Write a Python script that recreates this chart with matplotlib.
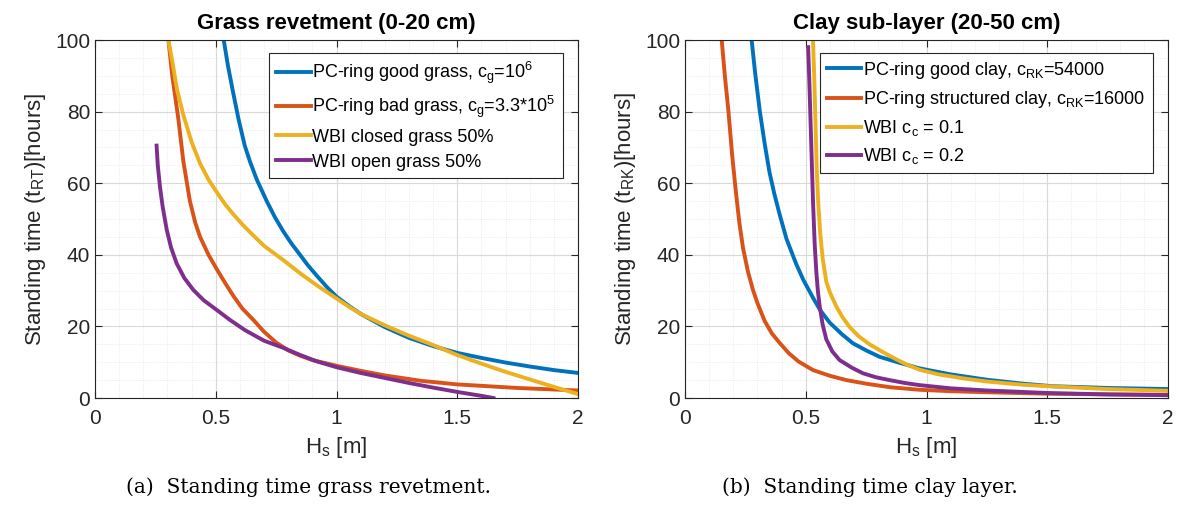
import matplotlib
matplotlib.use("Agg")
import matplotlib.pyplot as plt
from matplotlib.ticker import MultipleLocator

plt.rcParams["font.family"] = ["Liberation Sans", "DejaVu Sans"]
plt.rcParams["mathtext.fontset"] = "custom"
plt.rcParams["mathtext.rm"] = "Liberation Sans"
plt.rcParams["mathtext.it"] = "Liberation Sans:italic"

# --- grass revetment (0-20 cm) ---
good_grass_x = [0.533, 0.55, 0.57, 0.594, 0.62, 0.642, 0.67, 0.711, 0.745, 0.78, 0.815, 0.849, 0.88, 0.918,
                0.96, 1.0, 1.056, 1.1, 1.2, 1.3, 1.4, 1.5, 1.6, 1.7, 1.8, 1.9, 2.0]
good_grass_y = [100, 93, 86, 78, 70.5, 66, 61, 55, 50.5, 46.5, 43, 40, 37.2, 34.2, 31, 28.3, 25.5, 23.5,
                19.8, 16.8, 14.5, 12.6, 11.2, 9.9, 8.8, 7.8, 7]

bad_grass_x = [0.304, 0.32, 0.345, 0.366, 0.393, 0.415, 0.435, 0.47, 0.504, 0.54, 0.573, 0.61, 0.656, 0.70,
               0.75, 0.80, 0.85, 0.9, 1.0, 1.1, 1.2, 1.35, 1.5, 1.75, 2.0]
bad_grass_y = [100, 90, 78, 66, 55, 49, 45, 40, 36, 32, 28.5, 25, 21.8, 18.5, 15.5, 13.3, 11.8, 10.6,
               9.0, 7.6, 6.3, 4.8, 3.8, 2.8, 2.1]

closed_grass_x = [0.304, 0.32, 0.34, 0.366, 0.40, 0.435, 0.47, 0.504, 0.54, 0.573, 0.61, 0.642, 0.70, 0.78,
                  0.85, 0.918, 1.0, 1.056, 1.1, 1.2, 1.3, 1.4, 1.5, 1.6, 1.7, 1.8, 1.9, 2.0]
closed_grass_y = [100, 94, 86, 79, 71.5, 65.5, 61, 57.5, 54, 51.3, 48.5, 46.3, 42.5, 38.5, 34.8, 31.5,
                  27.8, 25.3, 23.5, 20.3, 17.4, 14.8, 12, 9.6, 7.3, 5.2, 3.1, 1.1]

open_grass_x = [0.255, 0.26, 0.269, 0.28, 0.297, 0.315, 0.338, 0.37, 0.407, 0.45, 0.504, 0.559, 0.62, 0.70,
                0.78, 0.85, 0.92, 1.0, 1.1, 1.2, 1.3, 1.4, 1.5, 1.6, 1.65]
open_grass_y = [70.5, 65, 59, 53.5, 47, 42, 37.6, 33.5, 30.2, 27.3, 24.6, 21.8, 19, 16, 14, 12, 10.2,
                8.6, 7.0, 5.6, 4.2, 2.9, 1.7, 0.6, 0]

# --- clay sub-layer (20-50 cm) ---
good_clay_x = [0.276, 0.29, 0.31, 0.33, 0.35, 0.37, 0.393, 0.42, 0.46, 0.49, 0.53, 0.56, 0.60, 0.65,
               0.695, 0.75, 0.806, 0.88, 0.97, 1.0, 1.1, 1.25, 1.4, 1.52, 1.75, 2.0]
good_clay_y = [100, 91, 80, 71, 63, 57, 51, 44.5, 37.5, 33, 28, 24.5, 21, 17.8, 15.3, 13.3, 11.5, 10,
               8.3, 7.9, 6.6, 5.1, 4.0, 3.3, 2.8, 2.5]

struct_clay_x = [0.152, 0.165, 0.18, 0.195, 0.21, 0.225, 0.24, 0.26, 0.28, 0.30, 0.33, 0.36, 0.393, 0.43,
                 0.47, 0.53, 0.6, 0.668, 0.75, 0.85, 0.971, 1.1, 1.25, 1.5, 1.75, 2.0]
struct_clay_y = [100, 90, 80, 68, 58, 49, 42, 35.5, 30.5, 26.5, 21.5, 18, 15.3, 12.5, 10.2, 7.8, 6.2, 5,
                 4, 3, 2.3, 1.9, 1.6, 1.2, 1.0, 0.9]

wbi_01_x = [0.53, 0.535, 0.54, 0.545, 0.551, 0.56, 0.57, 0.585, 0.60, 0.627, 0.65, 0.682, 0.72, 0.764,
            0.82, 0.875, 0.92, 0.971, 1.05, 1.15, 1.25, 1.4, 1.5, 1.75, 2.0]
wbi_01_y = [100, 90, 78, 65, 55.3, 46, 39, 32.5, 29.5, 25.5, 22.8, 19.8, 17.2, 15.0, 12.8, 10.8, 9.3,
            7.9, 6.6, 5.5, 4.6, 3.7, 3.3, 2.5, 2.0]

wbi_02_x = [0.51, 0.515, 0.52, 0.525, 0.53, 0.537, 0.544, 0.55, 0.558, 0.57, 0.585, 0.61, 0.64, 0.69,
            0.737, 0.79, 0.847, 0.91, 0.971, 1.1, 1.25, 1.5, 1.75, 2.0]
wbi_02_y = [98, 88, 77, 66, 55, 43, 35, 30, 25.5, 20.5, 16.4, 13, 10.6, 8.5, 6.9, 5.8, 5, 4.2, 3.6, 2.7,
            2.1, 1.4, 1.0, 0.8]

colors = ["#0072BD", "#D95319", "#EDB120", "#7E2F8E"]

grass_series = [
    (good_grass_x, good_grass_y, r"PC-ring good grass, c$_\mathrm{g}$=10$^\mathrm{6}$"),
    (bad_grass_x, bad_grass_y, r"PC-ring bad grass, c$_\mathrm{g}$=3.3*10$^\mathrm{5}$"),
    (closed_grass_x, closed_grass_y, "WBI closed grass 50%"),
    (open_grass_x, open_grass_y, "WBI open grass 50%"),
]
clay_series = [
    (good_clay_x, good_clay_y, r"PC-ring good clay, c$_\mathrm{RK}$=54000"),
    (struct_clay_x, struct_clay_y, r"PC-ring structured clay, c$_\mathrm{RK}$=16000"),
    (wbi_01_x, wbi_01_y, r"WBI c$_\mathrm{c}$ = 0.1"),
    (wbi_02_x, wbi_02_y, r"WBI c$_\mathrm{c}$ = 0.2"),
]

fig = plt.figure(figsize=(11.81, 5.09), dpi=100)
ax1 = fig.add_axes([95 / 1181, 1 - 398 / 509, 483 / 1181, 358 / 509])
ax2 = fig.add_axes([685 / 1181, 1 - 398 / 509, 483 / 1181, 358 / 509])

dark = "#262626"


def style_axes(ax, title, ylabel):
    ax.set_xlim(0, 2)
    ax.set_ylim(0, 100)
    ax.xaxis.set_major_locator(MultipleLocator(0.5))
    ax.xaxis.set_minor_locator(MultipleLocator(0.1))
    ax.yaxis.set_major_locator(MultipleLocator(20))
    ax.yaxis.set_minor_locator(MultipleLocator(5))
    ax.set_xticks([0, 0.5, 1, 1.5, 2])
    ax.set_xticklabels(["0", "0.5", "1", "1.5", "2"])
    ax.grid(which="major", color="#d9d9d9", linewidth=0.8)
    ax.grid(which="minor", color="#e6e6e6", linewidth=0.6, linestyle=":")
    ax.set_axisbelow(True)
    ax.tick_params(which="both", direction="in", top=True, right=True, colors=dark, labelsize=15)
    ax.tick_params(which="major", length=5)
    ax.tick_params(which="minor", length=0)
    ax.tick_params(axis="x", pad=8)
    for sp in ax.spines.values():
        sp.set_color(dark)
        sp.set_linewidth(0.8)
    ax.set_title(title, fontsize=16, fontweight="bold", pad=8)
    ax.set_xlabel(r"H$_\mathrm{s}$ [m]", fontsize=16, color=dark, labelpad=5)
    ax.set_ylabel(ylabel, fontsize=16, color=dark, labelpad=5)


for ax, series in [(ax1, grass_series), (ax2, clay_series)]:
    for (xs, ys, lab), c in zip(series, colors):
        ax.plot(xs, ys, color=c, linewidth=2.8, label=lab, solid_joinstyle="round")

style_axes(ax1, "Grass revetment (0-20 cm)", r"Standing time (t$_\mathrm{RT}$)[hours]")
style_axes(ax2, "Clay sub-layer (20-50 cm)", r"Standing time (t$_\mathrm{RK}$)[hours]")

for ax in (ax1, ax2):
    leg = ax.legend(loc="upper right", bbox_to_anchor=(0.968, 0.965), fontsize=13,
                    handlelength=1.9, handletextpad=0.1, labelspacing=0.45,
                    borderpad=0.4, fancybox=False, framealpha=1, borderaxespad=0)
    leg.get_frame().set_edgecolor(dark)
    leg.get_frame().set_linewidth(0.8)

fig.text(308 / 1181, 1 - 487 / 509, "(a)  Standing time grass revetment.", ha="center", va="center",
         fontsize=14.5, family="DejaVu Serif")
fig.text(870 / 1181, 1 - 487 / 509, "(b)  Standing time clay layer.", ha="center", va="center",
         fontsize=14.5, family="DejaVu Serif")

fig.savefig("out.png", dpi=100)
